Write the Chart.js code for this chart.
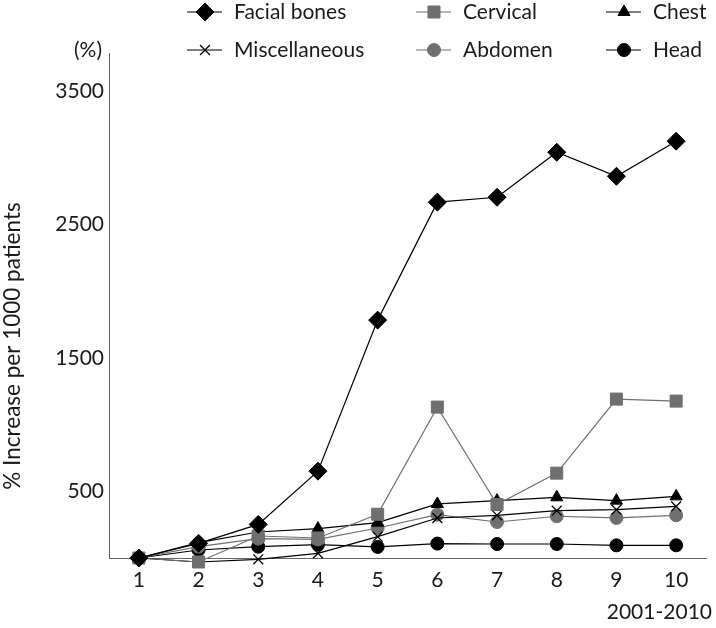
<!DOCTYPE html>
<html>
<head>
<meta charset="utf-8">
<script src="https://cdn.jsdelivr.net/npm/chart.js@4/dist/chart.umd.min.js"></script>
<style>
  html, body { margin: 0; padding: 0; background: #fff; }
  #wrap { width: 716px; height: 628px; }
</style>
</head>
<body>
<div id="wrap"><canvas id="chart" width="716" height="628"></canvas></div>
<script>
// data (% increase per 1000 patients, years 2001-2010)
var years = ['1', '2', '3', '4', '5', '6', '7', '8', '9', '10'];
var facialBones = [0, 110, 252, 651, 1783, 2667, 2704, 3041, 2861, 3124];
var cervical = [0, -30, 165, 150, 328, 1131, 401, 636, 1191, 1176];
var chest = [0, 115, 195, 220, 265, 405, 430, 455, 430, 462];
var miscellaneous = [0, -30, -10, 35, 160, 300, 320, 355, 362, 387];
var abdomen = [0, 85, 145, 139, 225, 325, 270, 313, 300, 320];
var head = [0, 60, 85, 100, 83, 108, 105, 105, 95, 95];
var yTicks = [500, 1500, 2500, 3500];

var FONT = 'Lato, "Open Sans", sans-serif';
var TEXT = '#1a1a1a';
var GRAY = '#6f6f6f';

function ds(label, data, style, radius, color, lineColor) {
    return {
        label: label,
        data: data,
        pointStyle: style,
        pointRadius: radius,
        pointHoverRadius: radius,
        pointBackgroundColor: color,
        pointBorderColor: color,
        pointBorderWidth: style === 'crossRot' ? 1.3 : 1,
        borderColor: lineColor,
        borderWidth: 1.2,
        backgroundColor: color,
        fill: false,
        tension: 0,
        clip: false
    };
}

// legend slots: [marker x, row y]
var legendPos = [[205, 12], [434, 12], [624, 12], [205, 50], [434, 50], [624, 50]];

var extras = {
    id: 'extras',
    afterDraw: function(chart) {
        var ctx = chart.ctx;
        ctx.save();
        ctx.font = '21px ' + FONT;
        ctx.textBaseline = 'middle';
        chart.data.datasets.forEach(function(d, i) {
            var x = legendPos[i][0], y = legendPos[i][1];
            ctx.strokeStyle = d.borderColor;
            ctx.lineWidth = 1.2;
            ctx.beginPath();
            ctx.moveTo(x - 18, y);
            ctx.lineTo(x + 17, y);
            ctx.stroke();
            ctx.fillStyle = d.pointBackgroundColor;
            ctx.strokeStyle = d.pointBorderColor;
            ctx.lineWidth = d.pointBorderWidth;
            Chart.helpers.drawPoint(ctx, {
                pointStyle: d.pointStyle,
                radius: d.pointRadius,
                rotation: 0,
                borderWidth: d.pointBorderWidth
            }, x, y);
            ctx.fillStyle = TEXT;
            ctx.textAlign = 'left';
            ctx.fillText(d.label, x + 29, y);
        });
        ctx.fillStyle = TEXT;
        // unit label above the axis
        ctx.textAlign = 'center';
        ctx.fillText('(%)', 88, 50);
        // x axis caption
        ctx.textAlign = 'right';
        ctx.fillText('2001-2010', 712, 612);
        // y axis title
        ctx.font = '22.5px ' + FONT;
        ctx.translate(13, 346);
        ctx.rotate(-Math.PI / 2);
        ctx.textAlign = 'center';
        ctx.fillText('% Increase per 1000 patients', 0, 0);
        ctx.restore();
    }
};

var datasets = [
    ds('Facial bones', facialBones, 'rectRot', 9, '#000', '#000'),
    ds('Cervical', cervical, 'rect', 8.5, GRAY, GRAY),
    ds('Chest', chest, 'triangle', 7, '#000', '#000'),
    ds('Miscellaneous', miscellaneous, 'crossRot', 7, '#000', '#000'),
    ds('Abdomen', abdomen, 'circle', 6.5, GRAY, GRAY),
    ds('Head', head, 'circle', 6.5, '#000', '#000')
];

new Chart(document.getElementById('chart'), {
    type: 'line',
    data: { labels: years, datasets: datasets },
    plugins: [extras],
    options: {
        responsive: false,
        animation: false,
        events: [],
        layout: { padding: { top: 53, right: 2, left: 0, bottom: 0 } },
        plugins: { legend: { display: false }, tooltip: { enabled: false } },
        scales: {
            x: {
                offset: true,
                grid: { display: false, drawTicks: false },
                border: { display: true, color: '#666', width: 1 },
                ticks: { color: TEXT, font: { family: FONT, size: 21 }, padding: 10, maxRotation: 0 },
                afterFit: function(scale) { scale.height = 70; }
            },
            y: {
                min: 0,
                max: 3785,
                grid: { display: false, drawTicks: false },
                border: { display: true, color: '#666', width: 1 },
                ticks: {
                    color: TEXT,
                    font: { family: FONT, size: 21 },
                    padding: 5,
                    callback: function(v) { return String(v); }
                },
                afterBuildTicks: function(scale) {
                    scale.ticks = yTicks.map(function(v) { return { value: v }; });
                },
                afterFit: function(scale) { scale.width = 109; }
            }
        }
    }
});
</script>
</body>
</html>
